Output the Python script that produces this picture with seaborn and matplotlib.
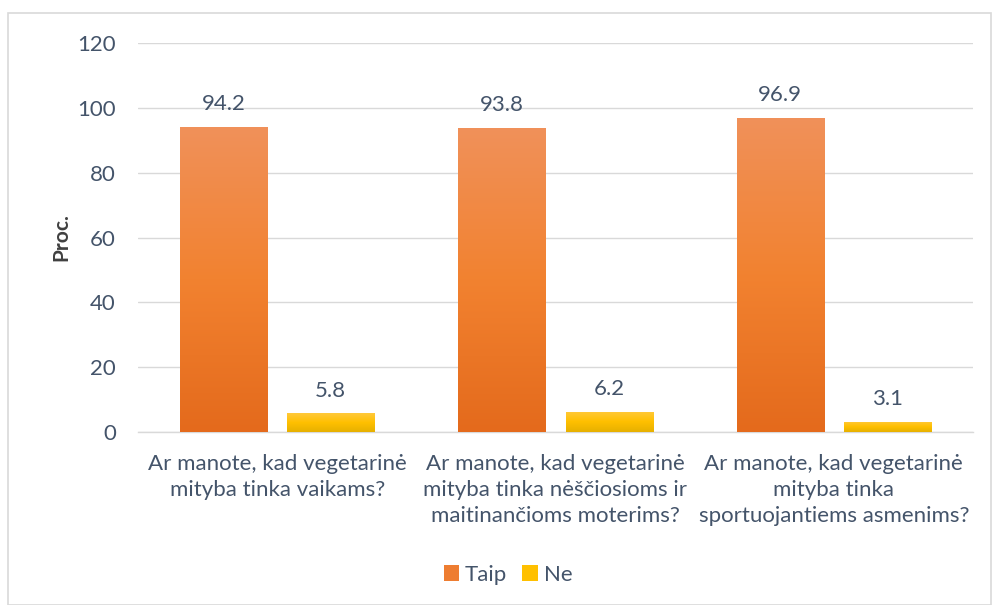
import matplotlib
matplotlib.use("Agg")
import matplotlib.pyplot as plt
import seaborn as sns
import pandas as pd
import numpy as np
from matplotlib.colors import LinearSegmentedColormap
from matplotlib.patches import Rectangle, Patch

categories = [
    "Ar manote, kad vegetarinė\nmityba tinka vaikams?",
    "Ar manote, kad vegetarinė\nmityba tinka nėščiosioms ir\nmaitinančioms moterims?",
    "Ar manote, kad vegetarinė\nmityba tinka\nsportuojantiems asmenims?",
]
series = ["Taip", "Ne"]
taip = [94.2, 93.8, 96.9]
ne = [5.8, 6.2, 3.1]
yticks = [0, 20, 40, 60, 80, 100, 120]

sns.set_theme(style="white")
plt.rcParams["font.family"] = ["Lato", "DejaVu Sans"]
txt = "#44546A"

df = pd.DataFrame({
    "cat": categories * 2,
    "series": [series[0]] * 3 + [series[1]] * 3,
    "val": taip + ne,
})

fig = plt.figure(figsize=(9.92, 6.05), dpi=100)
fig.patches.append(Rectangle((8 / 992, 0), 983 / 992, 592 / 605, transform=fig.transFigure,
                             fill=False, edgecolor="#D9D9D9", lw=1.2))
ax = fig.add_axes([138 / 992, 1 - 432 / 605, 835 / 992, 389 / 605])

mid = {"Taip": "#EE7D31", "Ne": "#FFC000"}
sns.barplot(data=df, x="cat", y="val", hue="series", palette=mid, width=0.77, gap=0.187,
            ax=ax, legend=False, zorder=3)

grads = {
    "Taip": LinearSegmentedColormap.from_list("t", ["#E46A1C", "#F28230", "#F0915A"]),
    "Ne": LinearSegmentedColormap.from_list("n", ["#E6B000", "#FFC000", "#FFC93C"]),
}
ax.set_ylim(0, 120)
ax.set_xlim(-0.5, 2.5)
for cont, s in zip(ax.containers, series):
    for p in cont:
        x0, y0 = p.get_x(), p.get_y()
        w, h = p.get_width(), p.get_height()
        grad = np.linspace(0, 1, 256).reshape(-1, 1)
        im = ax.imshow(grad, extent=[x0, x0 + w, y0, y0 + h], origin="lower", aspect="auto",
                       cmap=grads[s], zorder=4)
        im.set_clip_path(p)
        p.set_edgecolor("none")
    ax.bar_label(cont, fmt="%.1f", padding=9, fontsize=16, color=txt, zorder=5)
ax.set_ylim(0, 120)
ax.set_xlim(-0.5, 2.5)

ax.set_yticks(yticks)
ax.yaxis.grid(True, color="#D9D9D9", lw=1)
ax.set_axisbelow(True)
for sp in ["top", "right", "left"]:
    ax.spines[sp].set_visible(False)
ax.spines["bottom"].set_color("#D9D9D9")
ax.spines["bottom"].set_linewidth(1)
ax.tick_params(axis="y", length=0, pad=16, labelsize=16, labelcolor=txt)
ax.tick_params(axis="x", length=0, pad=16, labelsize=16, labelcolor=txt)
for lab in ax.get_xticklabels():
    lab.set_linespacing(1.38)
ax.set_xlabel("")
ax.set_ylabel("Proc.", fontsize=15, fontweight="bold", color="#404040", labelpad=4)

handles = [Patch(facecolor=mid[s], edgecolor="none") for s in series]
fig.legend(handles, series, loc="center", bbox_to_anchor=(0.512, 1 - 575 / 605), ncol=2,
           frameon=False, fontsize=16, labelcolor=txt, handlelength=0.7, handleheight=0.7,
           handletextpad=0.25, columnspacing=0.7)

fig.savefig("out.png", dpi=100)
